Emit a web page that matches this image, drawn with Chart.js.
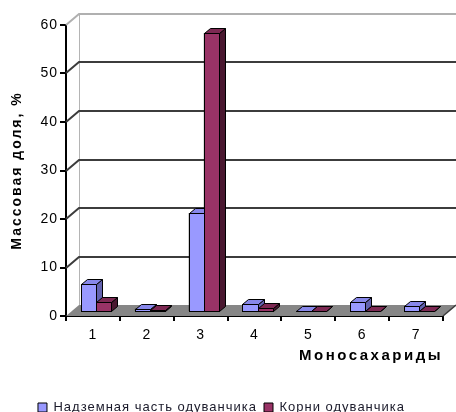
<!DOCTYPE html>
<html>
<head>
<meta charset="utf-8">
<script src="https://cdn.jsdelivr.net/npm/chart.js@4/dist/chart.umd.min.js"></script>
<style>
html,body{margin:0;padding:0;background:#fff}
canvas{display:block}
</style>
</head>
<body>
<canvas id="c" width="456" height="412"></canvas>
<script>
const categories = ['1', '2', '3', '4', '5', '6', '7'];
const aboveGround = [5.8, 0.7, 20.4, 1.7, 0.3, 2.0, 1.3];
const roots = [2.0, 0.4, 57.6, 0.8, 0.3, 0.2, 0.2];
const seriesNames = ['Надземная часть одуванчика', 'Корни одуванчика'];
const yMax = 60, yStep = 10;

// depth of the 3d box and of the bars
const DX = 13, DY = 11, BX = 6, BY = 5;
const faces = [
  {front: '#9999ff', top: '#8888ea', side: '#6363b0'},
  {front: '#993366', top: '#7d2953', side: '#4a1830'}
];

function spaced(ctx, sp, fn){
  const old = ctx.letterSpacing;
  ctx.letterSpacing = sp;
  fn();
  ctx.letterSpacing = old;
}

const box3d = {
  id: 'box3d',
  beforeUpdate(chart){ chart.ctx.letterSpacing = '1px'; },
  beforeDraw(chart){
    chart.ctx.letterSpacing = '1px';
    // wider titles, as in the picture
    [['x', '2.5px'], ['y', '2px']].forEach(([id, sp]) => {
      const s = chart.scales[id];
      if(s._spaced) return;
      const orig = s.drawTitle;
      s.drawTitle = function(){ spaced(chart.ctx, sp, () => orig.apply(this, arguments)); };
      s._spaced = true;
    });
  },
  beforeDatasetsDraw(chart){
    const {ctx, chartArea: a, scales: {y}} = chart;
    ctx.save();
    // floor
    ctx.fillStyle = '#868686';
    ctx.beginPath();
    ctx.moveTo(a.left, a.bottom); ctx.lineTo(a.right, a.bottom);
    ctx.lineTo(a.right + DX, a.bottom - DY); ctx.lineTo(a.left + DX, a.bottom - DY);
    ctx.closePath(); ctx.fill();
    // back wall left edge
    ctx.strokeStyle = '#b4b4b4'; ctx.lineWidth = 1;
    ctx.beginPath(); ctx.moveTo(a.left + DX + 0.5, y.getPixelForValue(yMax) - DY);
    ctx.lineTo(a.left + DX + 0.5, a.bottom - DY); ctx.stroke();
    // grid lines
    for(let v = yStep; v <= yMax; v += yStep){
      const py = Math.round(y.getPixelForValue(v));
      ctx.strokeStyle = v === yMax ? '#b0b0b0' : '#3c3c3c';
      ctx.lineWidth = 2;
      ctx.beginPath();
      ctx.moveTo(a.left, py);
      ctx.lineTo(a.left + DX, py - DY);
      ctx.lineTo(chart.width, py - DY);
      ctx.stroke();
    }
    ctx.strokeStyle = '#3c3c3c'; ctx.lineWidth = 1.5;
    ctx.beginPath(); ctx.moveTo(a.right, a.bottom); ctx.lineTo(a.right + DX, a.bottom - DY); ctx.stroke();
    ctx.restore();
    ctx.save();
    ctx.translate(3, -4);
  },
  afterDatasetsDraw(chart){
    const ctx = chart.ctx;
    const metas = [chart.getDatasetMeta(0), chart.getDatasetMeta(1)];
    ctx.strokeStyle = '#000'; ctx.lineWidth = 1;
    // redraw each group left to right so the right bar hides the side of the left one
    categories.forEach((c, i) => {
      metas.forEach((m, k) => {
        const b = m.data[i], f = faces[k];
        const l = Math.round(b.x - b.width / 2) + 0.5, r = Math.round(b.x + b.width / 2) + 0.5;
        const t = Math.round(b.y) + 0.5, bot = Math.round(b.base) + 0.5;
        ctx.fillStyle = f.front;
        ctx.fillRect(l, t, r - l, bot - t); ctx.strokeRect(l, t, r - l, bot - t);
        ctx.fillStyle = f.side;
        ctx.beginPath();
        ctx.moveTo(r, t); ctx.lineTo(r + BX, t - BY); ctx.lineTo(r + BX, bot - BY); ctx.lineTo(r, bot);
        ctx.closePath(); ctx.fill(); ctx.stroke();
        ctx.fillStyle = f.top;
        ctx.beginPath();
        ctx.moveTo(l, t); ctx.lineTo(l + BX, t - BY); ctx.lineTo(r + BX, t - BY); ctx.lineTo(r, t);
        ctx.closePath(); ctx.fill(); ctx.stroke();
      });
    });
    ctx.restore();
  }
};

const font = 'Arial, "Liberation Sans", sans-serif';

new Chart(document.getElementById('c'), {
  type: 'bar',
  data: {
    labels: categories,
    datasets: [
      {label: seriesNames[0], data: aboveGround, backgroundColor: faces[0].front, borderColor: '#000', borderWidth: 1, clip: false},
      {label: seriesNames[1], data: roots, backgroundColor: faces[1].front, borderColor: '#000', borderWidth: 1, clip: false}
    ]
  },
  options: {
    responsive: false,
    animation: false,
    devicePixelRatio: 1,
    categoryPercentage: 0.56,
    barPercentage: 1,
    layout: {padding: {top: 25, right: 13, left: 0, bottom: -12}},
    plugins: {
      tooltip: {enabled: false},
      legend: {
        position: 'bottom',
        labels: {
          font: {family: font, size: 13},
          color: '#1a1a2a',
          boxWidth: 9, boxHeight: 9,
          padding: 7
        }
      }
    },
    scales: {
      x: {
        afterFit: s => { s.height = 78; },
        border: {color: '#000', width: 2},
        grid: {drawOnChartArea: false, drawTicks: true, tickLength: 5, color: '#000', lineWidth: 2, offset: true},
        ticks: {color: '#000', font: {family: font, size: 14}, padding: 6},
        title: {display: true, text: 'Моносахариды', align: 'end', color: '#000',
          font: {family: font, size: 15, weight: 'bold'}, padding: {top: 0, bottom: 29}}
      },
      y: {
        min: 0, max: yMax,
        afterFit: s => { s.width = 66; },
        border: {color: '#000', width: 2},
        grid: {drawOnChartArea: false, drawTicks: true, tickLength: 6, color: '#000', lineWidth: 2},
        ticks: {stepSize: yStep, color: '#000', font: {family: font, size: 14}, padding: 2},
        title: {display: true, text: 'Массовая доля, %', color: '#000',
          font: {family: font, size: 14, weight: 'bold'}, padding: {top: 9, bottom: 0}}
      }
    }
  },
  plugins: [box3d]
});
</script>
</body>
</html>
